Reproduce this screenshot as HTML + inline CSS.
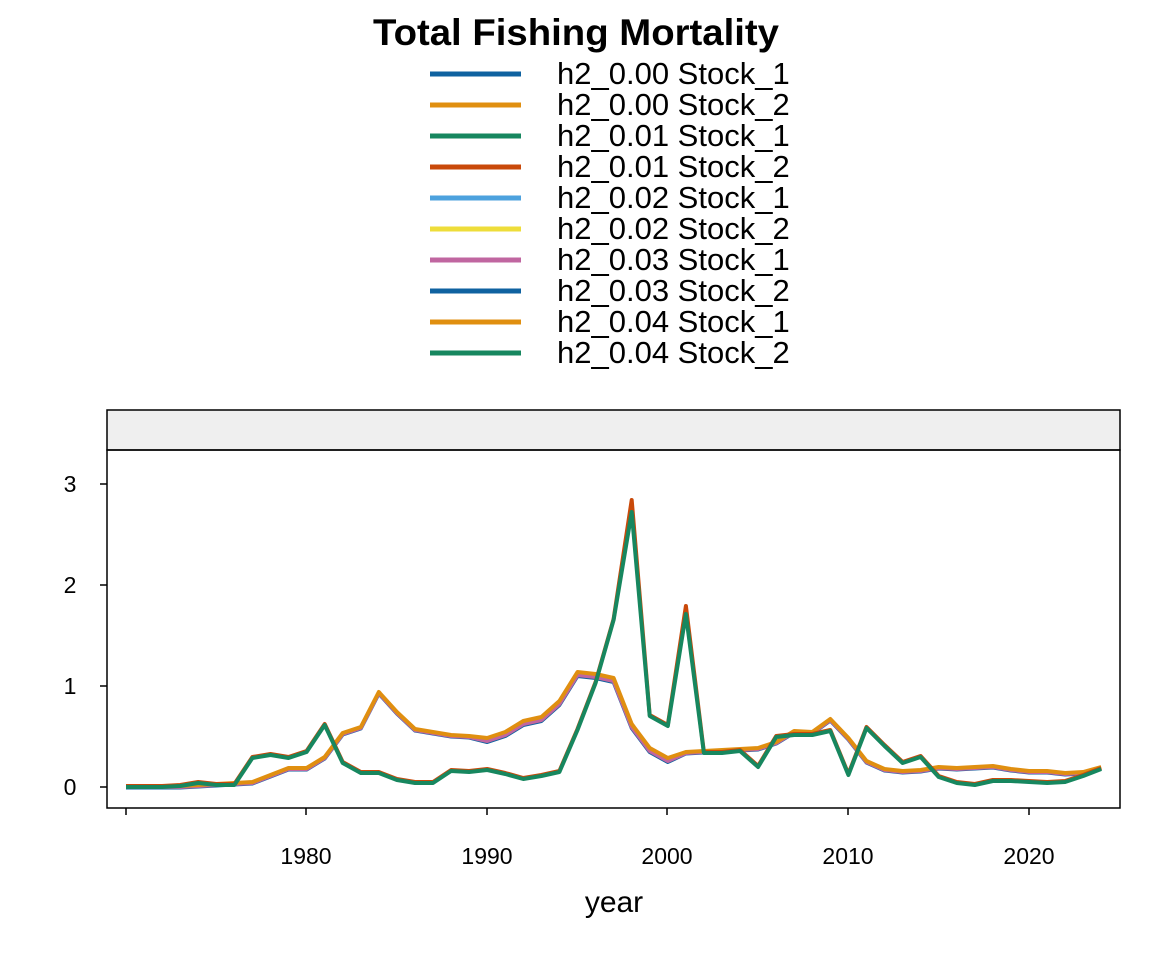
<!DOCTYPE html>
<html><head><style>body{margin:0;background:#fff}</style></head><body>
<svg width="1152" height="960" xmlns="http://www.w3.org/2000/svg" font-family="Liberation Sans, Arial, sans-serif">
<rect width="1152" height="960" fill="#fff"/>
<text x="576" y="45" text-anchor="middle" font-size="37" font-weight="bold" textLength="406" lengthAdjust="spacingAndGlyphs">Total Fishing Mortality</text>
<g stroke-width="5" fill="none">
<line x1="430" y1="74" x2="521" y2="74" stroke="#0F62A0"/>
<line x1="430" y1="105" x2="521" y2="105" stroke="#E08F10"/>
<line x1="430" y1="136" x2="521" y2="136" stroke="#17875F"/>
<line x1="430" y1="167" x2="521" y2="167" stroke="#C9490A"/>
<line x1="430" y1="198" x2="521" y2="198" stroke="#4DA2DE"/>
<line x1="430" y1="229" x2="521" y2="229" stroke="#EEDD3A"/>
<line x1="430" y1="260" x2="521" y2="260" stroke="#C066A0"/>
<line x1="430" y1="291" x2="521" y2="291" stroke="#0F62A0"/>
<line x1="430" y1="322" x2="521" y2="322" stroke="#E08F10"/>
<line x1="430" y1="353" x2="521" y2="353" stroke="#17875F"/>
</g>
<g font-size="31" fill="#000">
<text x="557" y="84">h2_0.00 Stock_1</text>
<text x="557" y="115">h2_0.00 Stock_2</text>
<text x="557" y="146">h2_0.01 Stock_1</text>
<text x="557" y="177">h2_0.01 Stock_2</text>
<text x="557" y="208">h2_0.02 Stock_1</text>
<text x="557" y="239">h2_0.02 Stock_2</text>
<text x="557" y="270">h2_0.03 Stock_1</text>
<text x="557" y="301">h2_0.03 Stock_2</text>
<text x="557" y="332">h2_0.04 Stock_1</text>
<text x="557" y="363">h2_0.04 Stock_2</text>
</g>
<rect x="107" y="410" width="1013" height="40" fill="#efefef" stroke="#000" stroke-width="1.5"/>
<rect x="107" y="450" width="1013" height="358" fill="none" stroke="#000" stroke-width="1.5"/>
<g stroke="#000" stroke-width="1.5">
<line x1="100" y1="484" x2="107" y2="484"/><line x1="100" y1="585" x2="107" y2="585"/>
<line x1="100" y1="686" x2="107" y2="686"/><line x1="100" y1="787" x2="107" y2="787"/>
<line x1="126" y1="808" x2="126" y2="815"/><line x1="306" y1="808" x2="306" y2="815"/>
<line x1="487" y1="808" x2="487" y2="815"/><line x1="667" y1="808" x2="667" y2="815"/>
<line x1="848" y1="808" x2="848" y2="815"/><line x1="1029" y1="808" x2="1029" y2="815"/>
</g>
<g font-size="23" text-anchor="middle">
<text x="70" y="492">3</text><text x="70" y="593">2</text><text x="70" y="694">1</text><text x="70" y="795">0</text>
<text x="306" y="864">1980</text><text x="487" y="864">1990</text><text x="667" y="864">2000</text><text x="848" y="864">2010</text><text x="1029" y="864">2020</text>
</g>
<text x="614" y="912" text-anchor="middle" font-size="30">year</text>
<g id="plot" fill="none" stroke-width="4" stroke-linejoin="round"></g>
<script>
var A=[786,786,786,786,785,784,783,782,775,768,768,757,733,727,692,712,729,732,735,736,738,732,721,717,701,672,674,678,724,748,758,752,751,750,749,748,742,731,732,719,738,761,769,771,770,767,768,767,766,769,771,771,773,772,767];
var B=[787,787,787,786,783,785,785,758,755,758,752,725,763,773,773,780,783,783,771,772,770,774,779,776,772,730,683,620,512,716,726,614,753,753,751,767,737,735,735,731,775,728,746,763,757,777,783,785,781,781,782,783,782,776,769];
function pts(a,f){return a.map(function(v,i){return (126+i*18.06).toFixed(1)+","+f(v,i)}).join(" ")}
var g=document.getElementById("plot"),ns="http://www.w3.org/2000/svg";
function add(p,c){var e=document.createElementNS(ns,"polyline");e.setAttribute("points",p);e.setAttribute("stroke",c);g.appendChild(e)}
add(pts(A,function(v,i){return v+(i>=20&&i<=30?4:1.5)}),"#0F62A0");
add(pts(A,function(v,i){return v+(i>=20&&i<=30?3:1)}),"#C066A0");
add(pts(A,function(v){return v}),"#E08F10");
add(pts(B,function(v,i){return i==28?500:(i==31?606:v-1)}),"#C9490A");
add(pts(B,function(v){return v}),"#17875F");
</script>
</svg>
</body></html>
